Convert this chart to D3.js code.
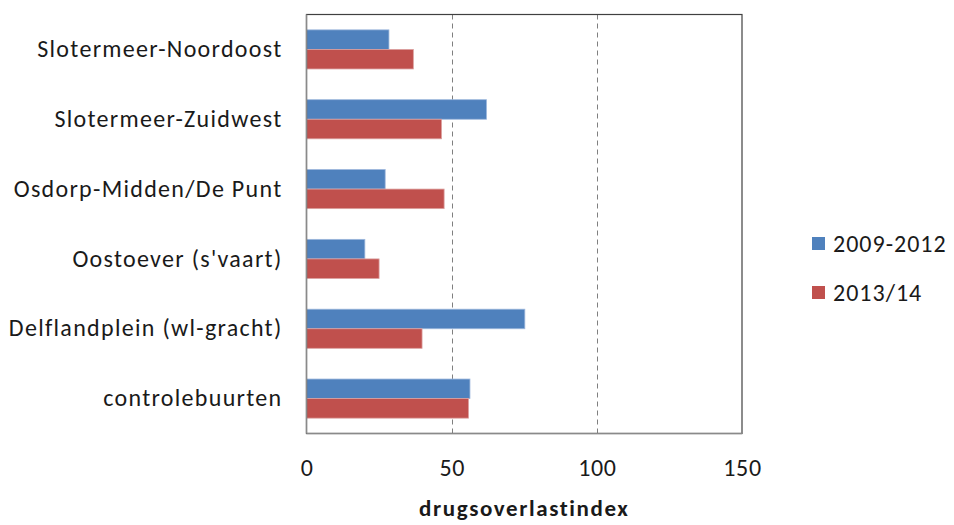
<!DOCTYPE html>
<html>
<head>
<meta charset="utf-8">
<script src="https://cdn.jsdelivr.net/npm/d3@7"></script>
<style>
  body { margin: 0; background: #fff; }
  svg text { font-family: "Carlito", "Lato", "Liberation Sans", sans-serif; fill: #1a1a1a; }
</style>
</head>
<body>
<svg id="chart" width="954" height="525"></svg>
<script>
// Neighbourhoods, top to bottom
const categories = [
  "Slotermeer-Noordoost",
  "Slotermeer-Zuidwest",
  "Osdorp-Midden/De Punt",
  "Oostoever (s'vaart)",
  "Delflandplein (wl-gracht)",
  "controlebuurten"
];
const seriesNames = ["2009-2012", "2013/14"];
const values2009_2012 = [28.4, 62.0, 27.1, 20.1, 75.2, 56.3];
const values2013_14 = [36.8, 46.5, 47.4, 25.0, 39.8, 55.8];
const xTicks = [0, 50, 100, 150];
const colors = ["#4F81BD", "#C0504D"];

const svg = d3.select("#chart");
const plot = { left: 306.5, right: 742, top: 14.5, bottom: 433.5 };
const fontStack = "Carlito, Lato, 'Liberation Sans', sans-serif";

const x = d3.scaleLinear().domain([0, 150]).range([plot.left, plot.right]);
const y = d3.scaleBand().domain(categories).range([plot.top, plot.bottom]).paddingInner(0.44).paddingOuter(0.22);
const ySub = d3.scaleBand().domain(seriesNames).range([0, y.bandwidth()]);

// Dashed vertical gridlines
svg.append("g")
  .selectAll("line")
  .data(xTicks.filter(t => t > 0 && t < 150))
  .join("line")
  .attr("x1", d => Math.round(x(d)) + 0.5)
  .attr("x2", d => Math.round(x(d)) + 0.5)
  .attr("y1", plot.top)
  .attr("y2", plot.bottom)
  .attr("stroke", "#7f7f7f")
  .attr("stroke-width", 1)
  .attr("stroke-dasharray", "5,4");

// Bars
const rows = categories.map((c, i) => ({ cat: c, vals: [values2009_2012[i], values2013_14[i]] }));
const groups = svg.append("g").selectAll("g")
  .data(rows)
  .join("g")
  .attr("transform", d => `translate(0,${y(d.cat)})`);

groups.selectAll("rect")
  .data(d => d.vals.map((v, k) => ({ v, k })))
  .join("rect")
  .attr("x", x(0))
  .attr("y", d => ySub(seriesNames[d.k]))
  .attr("width", d => x(d.v) - x(0))
  .attr("height", ySub.bandwidth())
  .attr("fill", d => colors[d.k])
  .attr("stroke", d => d.k === 0 ? "#9db7dc" : "#dba1a0")
  .attr("stroke-width", 0.8);

// Plot frame
svg.append("rect")
  .attr("x", plot.left)
  .attr("y", plot.top)
  .attr("width", plot.right - plot.left)
  .attr("height", plot.bottom - plot.top)
  .attr("fill", "none")
  .attr("stroke", "#404040")
  .attr("stroke-width", 1.2);

// Left and bottom axis lines
svg.append("line")
  .attr("x1", plot.left).attr("x2", plot.left)
  .attr("y1", plot.top).attr("y2", plot.bottom)
  .attr("stroke", "#8a8a8a").attr("stroke-width", 1.5);
svg.append("line")
  .attr("x1", plot.left).attr("x2", plot.right)
  .attr("y1", plot.bottom).attr("y2", plot.bottom)
  .attr("stroke", "#8a8a8a").attr("stroke-width", 1.5);

// X axis tick labels
const xAxis = d3.axisBottom(x).tickValues(xTicks).tickSize(0).tickPadding(25);
const gx = svg.append("g")
  .attr("transform", `translate(0,${plot.bottom})`)
  .call(xAxis);
gx.select(".domain").remove();
gx.selectAll("text")
  .style("font-size", "24px")
  .style("font-family", fontStack)
  .style("letter-spacing", "0.6px")
  .attr("fill", "#1a1a1a");

// Y axis category labels
const yAxis = d3.axisLeft(y).tickSize(0).tickPadding(24);
const gy = svg.append("g")
  .attr("transform", `translate(${plot.left},0)`)
  .call(yAxis);
gy.select(".domain").remove();
gy.selectAll("text")
  .style("font-size", "24px")
  .style("font-family", fontStack)
  .style("letter-spacing", "1.3px")
  .attr("fill", "#1a1a1a");

// Axis title
svg.append("text")
  .attr("x", (plot.left + plot.right) / 2)
  .attr("y", 516)
  .attr("text-anchor", "middle")
  .style("font-size", "23px")
  .style("font-weight", "bold")
  .style("letter-spacing", "1.6px")
  .text("drugsoverlastindex");

// Legend
const legend = svg.append("g")
  .selectAll("g")
  .data(seriesNames)
  .join("g")
  .attr("transform", (d, i) => `translate(812,${237 + i * 49})`);
legend.append("rect")
  .attr("width", 13).attr("height", 13)
  .attr("fill", (d, i) => colors[i]);
legend.append("text")
  .attr("x", 21)
  .attr("y", 15)
  .style("font-size", "24px")
  .style("letter-spacing", "1px")
  .text(d => d);
</script>
</body>
</html>
